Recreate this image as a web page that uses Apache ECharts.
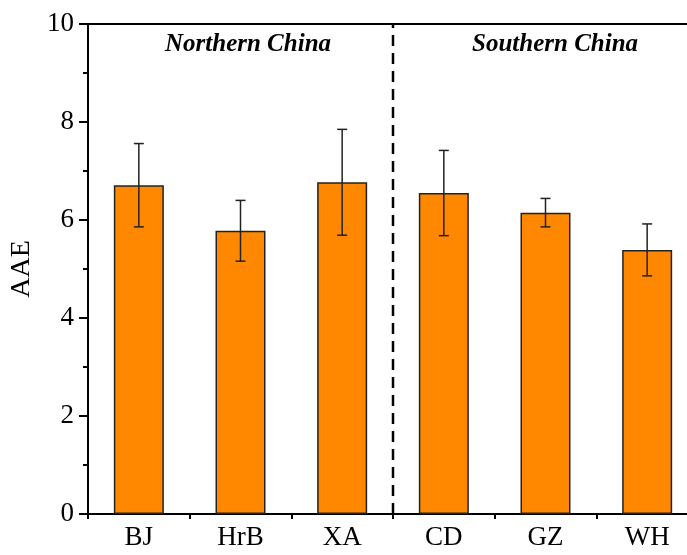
<!DOCTYPE html>
<html lang="en">
<head>
    <meta charset="UTF-8">
    <title>AAE by city</title>
    <script src="https://cdn.jsdelivr.net/npm/echarts/dist/echarts.min.js"></script>
    <style>
        html, body { margin: 0; padding: 0; background: #ffffff; }
        #main { width: 687px; height: 555px; }
    </style>
</head>
<body>
    <div id="main"></div>
    <script>
        // data
        var cities = ['BJ', 'HrB', 'XA', 'CD', 'GZ', 'WH'];
        var aae = [6.71, 5.78, 6.77, 6.55, 6.15, 5.39];
        var aaeErr = [0.85, 0.62, 1.08, 0.87, 0.29, 0.53];
        var yTicks = [0, 2, 4, 6, 8, 10];
        var regionLabels = ['Northern China', 'Southern China'];
        var dividerAt = 3; // boundary between XA and CD

        var font = '"Liberation Serif", "Times New Roman", serif';
        var chart = echarts.init(document.getElementById('main'));

        var errData = aae.map(function (v, i) {
            return [i, v - aaeErr[i], v + aaeErr[i]];
        });

        var option = {
            animation: false,
            grid: { left: 88, top: 24, bottom: 41, width: 610, containLabel: false, outerBoundsMode: 'none' },
            xAxis: [
                {
                    type: 'category',
                    data: cities,
                    position: 'bottom',
                    axisLine: { lineStyle: { color: '#000', width: 2 } },
                    axisTick: { alignWithLabel: true, length: 8, lineStyle: { color: '#000', width: 2 } },
                    axisLabel: { color: '#000', fontFamily: font, fontSize: 27, margin: 10 }
                },
                {
                    type: 'value', min: 0, max: 6, interval: 1,
                    position: 'bottom',
                    axisLine: { show: false },
                    axisTick: { show: true, length: 5, lineStyle: { color: '#000', width: 2 } },
                    axisLabel: { show: false },
                    splitLine: { show: false }
                },
                {
                    type: 'value', min: 0, max: 6,
                    position: 'top',
                    axisLine: { show: true, lineStyle: { color: '#000', width: 2 } },
                    axisTick: { show: false },
                    axisLabel: { show: false },
                    splitLine: { show: false }
                }
            ],
            yAxis: {
                type: 'value', min: 0, max: 10, interval: 2,
                name: 'AAE',
                nameLocation: 'middle',
                nameGap: 45,
                nameTextStyle: { color: '#000', fontFamily: font, fontSize: 28 },
                axisLine: { show: true, lineStyle: { color: '#000', width: 2 } },
                axisTick: { show: true, length: 9, lineStyle: { color: '#000', width: 2 } },
                minorTick: { show: true, splitNumber: 2, length: 5, lineStyle: { color: '#000', width: 2 } },
                axisLabel: {
                    color: '#000', fontFamily: font, fontSize: 27, margin: 14,
                    formatter: function (v) { return yTicks.indexOf(v) >= 0 ? String(v) : ''; }
                },
                splitLine: { show: false }
            },
            series: [
                {
                    type: 'bar',
                    data: aae,
                    barWidth: 50,
                    itemStyle: { color: '#FF8800', borderColor: '#222', borderWidth: 1.5 }
                },
                {
                    type: 'custom',
                    xAxisIndex: 0,
                    data: errData,
                    z: 5,
                    renderItem: function (params, api) {
                        var lo = api.coord([api.value(0), api.value(1)]);
                        var hi = api.coord([api.value(0), api.value(2)]);
                        var half = 5;
                        var style = { stroke: '#222', lineWidth: 1.5 };
                        return {
                            type: 'group',
                            children: [
                                { type: 'line', shape: { x1: hi[0], y1: hi[1], x2: lo[0], y2: lo[1] }, style: style },
                                { type: 'line', shape: { x1: hi[0] - half, y1: hi[1], x2: hi[0] + half, y2: hi[1] }, style: style },
                                { type: 'line', shape: { x1: lo[0] - half, y1: lo[1], x2: lo[0] + half, y2: lo[1] }, style: style }
                            ]
                        };
                    }
                },
                {
                    type: 'line',
                    xAxisIndex: 1,
                    data: [[dividerAt, 0], [dividerAt, 10]],
                    symbol: 'none',
                    lineStyle: { color: '#000', width: 2.5, type: [11, 7] },
                    z: 4
                }
            ],
            graphic: [
                {
                    type: 'text', left: 165, top: 32,
                    style: { text: regionLabels[0], font: 'italic bold 25px ' + font, fill: '#000' }
                },
                {
                    type: 'text', left: 472, top: 32,
                    style: { text: regionLabels[1], font: 'italic bold 25px ' + font, fill: '#000' }
                }
            ]
        };

        chart.setOption(option);
    </script>
</body>
</html>
